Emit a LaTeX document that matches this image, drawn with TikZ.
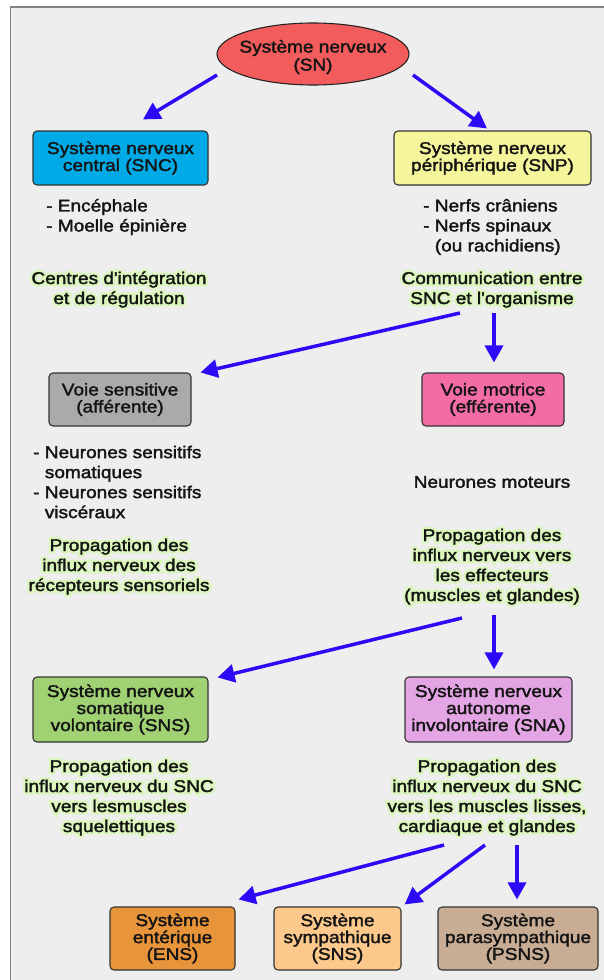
\documentclass[tikz,border=0pt]{standalone}
\usepackage{fontspec}
\setmainfont{Liberation Sans}[FakeStretch=1.12,FakeBold=2,Ligatures=TeXOff]
\newfontfamily\halofont{Liberation Sans}[FakeStretch=1.12,FakeBold=28,Ligatures=TeXOff]
\usetikzlibrary{arrows.meta,shapes.geometric}
\definecolor{panel}{RGB}{238,238,238}
\definecolor{panelline}{RGB}{130,130,130}
\definecolor{arrowblue}{RGB}{45,10,245}
\definecolor{halo}{RGB}{218,246,186}
\definecolor{snred}{RGB}{242,92,92}
\definecolor{sncblue}{RGB}{0,170,230}
\definecolor{snpyellow}{RGB}{245,245,155}
\definecolor{vsgray}{RGB}{170,170,170}
\definecolor{vmpink}{RGB}{243,108,166}
\definecolor{snsgreen}{RGB}{160,210,115}
\definecolor{snalilac}{RGB}{228,165,228}
\definecolor{ensorange}{RGB}{232,148,58}
\definecolor{symorange}{RGB}{252,200,140}
\definecolor{psnstan}{RGB}{200,173,148}
\definecolor{txt}{RGB}{20,20,20}
\newcommand\glowtext[1]{\makebox[0pt][l]{\textcolor{halo}{\halofont\begin{tabular}{@{}c@{}}#1\end{tabular}}}\begin{tabular}{@{}c@{}}#1\end{tabular}}
\tikzset{
  boxst/.style={draw=black!80, line width=1.1pt, rounded corners=4pt, inner sep=0pt,
    align=center, text=txt, font=\fontsize{17}{17}\selectfont},
  lowbox/.style={boxst, font=\fontsize{17}{15}\selectfont},
  freetxt/.style={inner sep=0pt, text=txt, font=\fontsize{17}{20}\selectfont},
  arr/.style={draw=arrowblue, line width=3.5pt, -{Triangle[length=17pt,width=18pt]}},
}
\begin{document}
\begin{tikzpicture}[x=1pt,y=-1pt]
\useasboundingbox (0,0) rectangle (604,980);
\fill[white] (0,0) rectangle (604,980);
\draw[fill=panel, draw=panelline, line width=1.6pt] (10.5,7) rectangle (640,1010);

% top
\node[ellipse, draw=black!85, line width=1.1pt, fill=snred, minimum width=192pt,
  minimum height=62pt, inner sep=0pt] (sn) at (313,54) {};
\node[freetxt, align=center, font=\fontsize{17}{18}\selectfont] (snlabel) at (313,57)
  {Système nerveux\\(SN)};

\node[boxst, fill=sncblue, minimum width=175pt, minimum height=54pt] (snc) at (120.5,158)
  {Système nerveux\\central (SNC)};
\node[boxst, fill=snpyellow, minimum width=197pt, minimum height=54pt] (snp) at (492.5,158)
  {Système nerveux\\périphérique (SNP)};

\node[freetxt, anchor=west, align=left] (enc) at (46,217) {- Encéphale\\- Moelle épinière};
\node[freetxt, anchor=west, align=left] (nerfs) at (423,227)
  {- Nerfs crâniens\\- Nerfs spinaux\\\hphantom{- }(ou rachidiens)};

\node[freetxt] (centres) at (119,290) {\glowtext{Centres d'intégration\\et de régulation}};
\node[freetxt] (comm) at (492,290) {\glowtext{Communication entre\\SNC et l'organisme}};

\node[boxst, fill=vsgray, minimum width=142pt, minimum height=53pt] (vs) at (120,399.5)
  {Voie sensitive\\(afférente)};
\node[boxst, fill=vmpink, minimum width=142pt, minimum height=53pt] (vm) at (493,399.5)
  {Voie motrice\\(efférente)};

\node[freetxt, anchor=west, align=left] (sensl) at (33,482)
  {- Neurones sensitifs\\\hphantom{- }somatiques\\- Neurones sensitifs\\\hphantom{- }viscéraux};
\node[freetxt] (mot) at (492,482) {Neurones moteurs};

\node[freetxt] (propl) at (119,567)
  {\glowtext{Propagation des\\influx nerveux des\\récepteurs sensoriels}};
\node[freetxt] (propr) at (492,567)
  {\glowtext{Propagation des\\influx nerveux vers\\les effecteurs\\(muscles et glandes)}};

\node[boxst, fill=snsgreen, minimum width=175pt, minimum height=65pt] (sns) at (120.5,709.5)
  {Système nerveux\\somatique\\volontaire (SNS)};
\node[boxst, fill=snalilac, minimum width=167pt, minimum height=65pt] (sna) at (488.5,709.5)
  {Système nerveux\\autonome\\involontaire (SNA)};

\node[freetxt] (propl2) at (119,798)
  {\glowtext{Propagation des\\influx nerveux du SNC\\vers lesmuscles\\squelettiques}};
\node[freetxt] (propr2) at (487,798)
  {\glowtext{Propagation des\\influx nerveux du SNC\\vers les muscles lisses,\\cardiaque et glandes}};

\node[lowbox, fill=ensorange, minimum width=125pt, minimum height=63pt] (ens) at (172.5,938.5)
  {Système\\entérique\\(ENS)};
\node[lowbox, fill=symorange, minimum width=127pt, minimum height=63pt] (sym) at (337.5,938.5)
  {Système\\sympathique\\(SNS)};
\node[lowbox, fill=psnstan, minimum width=160pt, minimum height=63pt] (psns) at (518,938.5)
  {Système\\parasympathique\\(PSNS)};

% arrows
\draw[arr] ([shift={(-96,21)}]sn.center) -- ([shift={(22.5,-11)}]snc.north);
\draw[arr] ([shift={(100,21)}]sn.center) -- ([shift={(-5.5,-2)}]snp.north);
\draw[arr] ([shift={(-32,23)}]comm.center) -- ([shift={(9,0)}]vs.north east);
\draw[arr] ([shift={(2,23)}]comm.center) -- ([shift={(1,-10)}]vm.north);
\draw[arr] ([shift={(-30,51)}]propr.center) -- ([shift={(9,1)}]sns.north east);
\draw[arr] ([shift={(2,48)}]propr.center) -- ([shift={(5.5,-7)}]sna.north);
\draw[arr] ([shift={(-43,47)}]propr2.center) -- ([shift={(3,-7)}]ens.north east);
\draw[arr] ([shift={(-2,47)}]propr2.center) -- ([shift={(3,-2)}]sym.north east);
\draw[arr] ([shift={(30,47)}]propr2.center) -- ([shift={(-1,-7)}]psns.north);
\end{tikzpicture}
\end{document}
